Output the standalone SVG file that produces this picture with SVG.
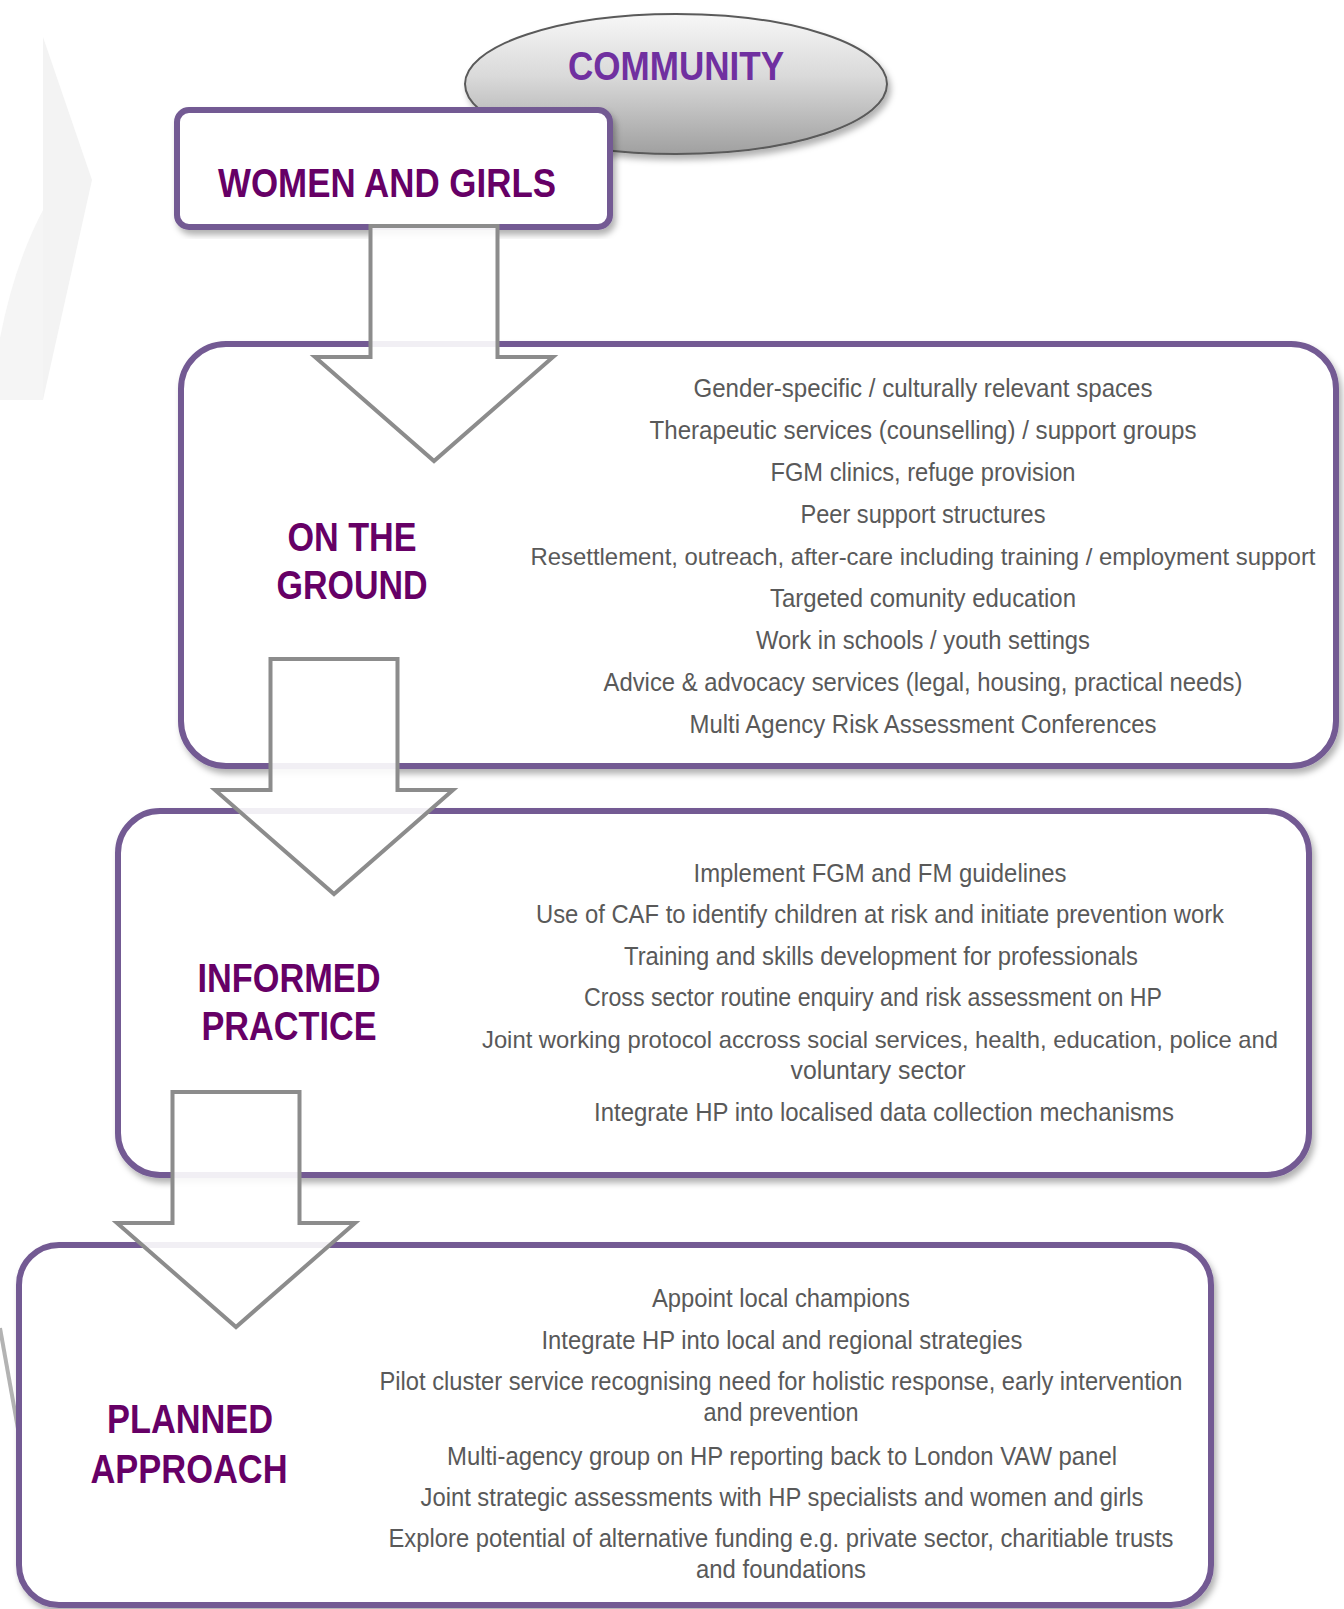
<svg xmlns="http://www.w3.org/2000/svg" xmlns:xlink="http://www.w3.org/1999/xlink" width="1344" height="1609" viewBox="0 0 1344 1609">
<defs>
<style>
.box{fill:#ffffff;stroke:#735a93;stroke-width:6;filter:url(#sh)}
.hd{font-family:"Liberation Sans",Arial,sans-serif;font-weight:bold;font-size:41px;fill:#660066;text-anchor:middle}
.tx{font-family:"Liberation Sans",Arial,sans-serif;font-size:26px;fill:#595959;text-anchor:middle}
.arr{fill:#ffffff;fill-opacity:0.9;stroke:#8c8c8c;stroke-width:4;stroke-linejoin:miter}
</style>
<filter id="sh" x="-5%" y="-5%" width="112%" height="115%">
<feDropShadow dx="3" dy="5" stdDeviation="3" flood-color="#000000" flood-opacity="0.3"/>
</filter>
<linearGradient id="eg" x1="0" y1="0" x2="0" y2="1">
<stop offset="0" stop-color="#f7f7f7"/>
<stop offset="0.45" stop-color="#d9d9d9"/>
<stop offset="1" stop-color="#a0a0a0"/>
</linearGradient>
<path id="arrow" d="M-63.5,0 H63.5 V131 H119 L0,235 L-119,131 H-63.5 Z"/>
</defs>
<rect width="1344" height="1609" fill="#ffffff"/>
<g id="background">
<path d="M43,37 L92,180 L43,400 Z" fill="#f3f3f3"/>
<path d="M43,210 Q14,265 0,338 L0,400 L43,400 Z" fill="#f5f5f5"/>
<path d="M0,1328 L20,1440" stroke="#b3b3b3" stroke-width="4" fill="none"/>
</g>
<g id="community">
<ellipse cx="676" cy="84" rx="211" ry="70" fill="url(#eg)" stroke="#5a5a5a" stroke-width="2" filter="url(#sh)"/>
<text x="676" y="80" class="hd" style="fill:#7030a0" textLength="216" lengthAdjust="spacingAndGlyphs">COMMUNITY</text>
</g>
<g id="women-and-girls">
<rect x="177" y="110" width="433" height="117" rx="12" class="box"/>
<text x="387" y="197" class="hd" style="font-size:40px" textLength="338" lengthAdjust="spacingAndGlyphs">WOMEN AND GIRLS</text>
</g>
<g id="on-the-ground">
<rect x="181" y="344" width="1155" height="422" rx="45" class="box"/>
<text x="352" y="551" class="hd" textLength="129" lengthAdjust="spacingAndGlyphs">ON THE</text>
<text x="352" y="599" class="hd" textLength="151" lengthAdjust="spacingAndGlyphs">GROUND</text>
<text x="923" y="397" class="tx" textLength="459" lengthAdjust="spacingAndGlyphs">Gender-specific  / culturally relevant spaces</text>
<text x="923" y="439" class="tx" textLength="547" lengthAdjust="spacingAndGlyphs">Therapeutic  services (counselling) / support groups</text>
<text x="923" y="481" class="tx" textLength="305" lengthAdjust="spacingAndGlyphs">FGM clinics,  refuge provision</text>
<text x="923" y="523" class="tx" textLength="245" lengthAdjust="spacingAndGlyphs">Peer support structures</text>
<text x="923" y="565" class="tx" style="font-size:24px" textLength="785" lengthAdjust="spacingAndGlyphs">Resettlement, outreach, after-care including training / employment support</text>
<text x="923" y="607" class="tx" textLength="306" lengthAdjust="spacingAndGlyphs">Targeted comunity education</text>
<text x="923" y="649" class="tx" textLength="334" lengthAdjust="spacingAndGlyphs">Work in schools / youth settings</text>
<text x="923" y="691" class="tx" textLength="639" lengthAdjust="spacingAndGlyphs">Advice &amp; advocacy services (legal, housing, practical needs)</text>
<text x="923" y="733" class="tx" textLength="467" lengthAdjust="spacingAndGlyphs">Multi Agency Risk  Assessment Conferences</text>
</g>
<g id="informed-practice">
<rect x="118" y="811" width="1191" height="364" rx="42" class="box"/>
<text x="289" y="992" class="hd" textLength="183" lengthAdjust="spacingAndGlyphs">INFORMED</text>
<text x="289" y="1040" class="hd" textLength="175" lengthAdjust="spacingAndGlyphs">PRACTICE</text>
<text x="880" y="882" class="tx" textLength="373" lengthAdjust="spacingAndGlyphs">Implement FGM and FM guidelines</text>
<text x="880" y="923" class="tx" textLength="688" lengthAdjust="spacingAndGlyphs">Use of CAF to identify children at risk and initiate prevention work</text>
<text x="881" y="965" class="tx" textLength="514" lengthAdjust="spacingAndGlyphs">Training and skills  development for professionals</text>
<text x="873" y="1006" class="tx" textLength="578" lengthAdjust="spacingAndGlyphs">Cross sector routine enquiry and risk  assessment on HP</text>
<text x="880" y="1048" class="tx" style="font-size:24px" textLength="796" lengthAdjust="spacingAndGlyphs">Joint working protocol accross social services,  health, education, police and</text>
<text x="878" y="1079" class="tx" textLength="175" lengthAdjust="spacingAndGlyphs">voluntary sector</text>
<text x="884" y="1121" class="tx" textLength="580" lengthAdjust="spacingAndGlyphs">Integrate HP into localised data collection mechanisms</text>
</g>
<g id="planned-approach">
<rect x="19" y="1245" width="1192" height="360" rx="40" class="box"/>
<text x="190" y="1433" class="hd" textLength="166" lengthAdjust="spacingAndGlyphs">PLANNED</text>
<text x="189" y="1483" class="hd" textLength="197" lengthAdjust="spacingAndGlyphs">APPROACH</text>
<text x="781" y="1307" class="tx" textLength="258" lengthAdjust="spacingAndGlyphs">Appoint local champions</text>
<text x="782" y="1349" class="tx" textLength="481" lengthAdjust="spacingAndGlyphs">Integrate HP into local and regional strategies</text>
<text x="781" y="1390" class="tx" textLength="803" lengthAdjust="spacingAndGlyphs">Pilot cluster service  recognising need for holistic response, early intervention</text>
<text x="781" y="1421" class="tx" textLength="155" lengthAdjust="spacingAndGlyphs">and prevention</text>
<text x="782" y="1465" class="tx" textLength="670" lengthAdjust="spacingAndGlyphs">Multi-agency group on HP reporting back to London VAW panel</text>
<text x="782" y="1506" class="tx" textLength="723" lengthAdjust="spacingAndGlyphs">Joint strategic assessments with HP specialists and women and girls</text>
<text x="781" y="1547" class="tx" textLength="785" lengthAdjust="spacingAndGlyphs">Explore potential of alternative funding e.g. private  sector,  charitiable trusts</text>
<text x="781" y="1578" class="tx" textLength="170" lengthAdjust="spacingAndGlyphs">and foundations</text>
</g>
<g id="connectors">
<use xlink:href="#arrow" href="#arrow" x="434" y="226" class="arr"/>
<use xlink:href="#arrow" href="#arrow" x="334" y="659" class="arr"/>
<use xlink:href="#arrow" href="#arrow" x="236" y="1092" class="arr"/>
</g>
</svg>
